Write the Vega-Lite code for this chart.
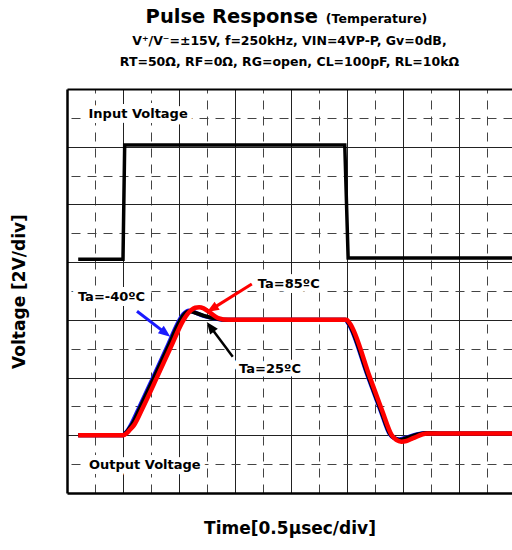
{
  "$schema": "https://vega.github.io/schema/vega-lite/v6.json",
  "width": 445,
  "height": 404,
  "autosize": {"type": "none"},
  "padding": {"left": 67, "top": 89, "right": 0, "bottom": 57},
  "background": "white",
  "title": {
    "text": "Pulse Response\u00a0\u00a0\u00a0\u00a0\u00a0\u00a0\u00a0\u00a0\u00a0\u00a0\u00a0\u00a0\u00a0\u00a0\u00a0\u00a0\u00a0\u200b",
    "subtitle": [
      "\u200b\u00a0\u00a0\u00a0\u00a0\u00a0\u00a0\u00a0\u00a0\u00a0\u00a0\u00a0\u00a0\u00a0\u00a0\u00a0\u00a0\u00a0\u00a0\u00a0\u00a0\u00a0\u00a0\u00a0\u00a0\u00a0\u00a0\u00a0\u00a0\u00a0\u00a0\u00a0\u00a0\u00a0\u00a0\u00a0\u00a0\u00a0\u00a0\u00a0\u00a0(Temperature)",
      "V⁺/V⁻=±15V, f=250kHz, VIN=4VP-P, Gv=0dB,",
      "RT=50Ω, RF=0Ω, RG=open, CL=100pF, RL=10kΩ"
    ],
    "anchor": "middle",
    "frame": "group",
    "font": "DejaVu Sans",
    "fontSize": 19.5,
    "fontWeight": "bold",
    "color": "#000000",
    "subtitleFont": "DejaVu Sans",
    "subtitleFontSize": 12.5,
    "subtitleFontWeight": "bold",
    "subtitleColor": "#000000",
    "subtitlePadding": -14,
    "subtitleLineHeight": 21.5,
    "offset": 19.5
  },
  "datasets": {
    "input": [
      {"t": 0.2, "v": 4.05}, {"t": 1.0, "v": 4.05}, {"t": 1.03, "v": 6.03}, {"t": 3.0, "v": 6.03},
      {"t": 4.96, "v": 6.03}, {"t": 5.02, "v": 4.07}, {"t": 7.95, "v": 4.07}
    ],
    "output": [
      {"series": "-40", "t": 0.2, "v": 1.0}, {"series": "-40", "t": 1.0, "v": 1.0}, {"series": "-40", "t": 1.04, "v": 1.04},
      {"series": "-40", "t": 1.09, "v": 1.1}, {"series": "-40", "t": 1.15, "v": 1.2}, {"series": "-40", "t": 1.29, "v": 1.49},
      {"series": "-40", "t": 1.53, "v": 1.99}, {"series": "-40", "t": 1.78, "v": 2.52}, {"series": "-40", "t": 1.98, "v": 2.95},
      {"series": "-40", "t": 2.05, "v": 3.07}, {"series": "-40", "t": 2.11, "v": 3.13}, {"series": "-40", "t": 2.17, "v": 3.16},
      {"series": "-40", "t": 2.25, "v": 3.14}, {"series": "-40", "t": 2.43, "v": 3.07}, {"series": "-40", "t": 2.66, "v": 3.02},
      {"series": "-40", "t": 2.83, "v": 3.0}, {"series": "-40", "t": 4.97, "v": 3.0}, {"series": "-40", "t": 5.02, "v": 2.94},
      {"series": "-40", "t": 5.37, "v": 2.02}, {"series": "-40", "t": 5.6, "v": 1.42}, {"series": "-40", "t": 5.76, "v": 1.02},
      {"series": "-40", "t": 5.84, "v": 0.95}, {"series": "-40", "t": 5.93, "v": 0.93}, {"series": "-40", "t": 6.05, "v": 0.96},
      {"series": "-40", "t": 6.25, "v": 1.02}, {"series": "-40", "t": 6.43, "v": 1.04}, {"series": "-40", "t": 6.7, "v": 1.03},
      {"series": "-40", "t": 7.95, "v": 1.03},
      {"series": "25", "t": 0.2, "v": 1.0}, {"series": "25", "t": 1.0, "v": 1.0}, {"series": "25", "t": 1.05, "v": 1.04},
      {"series": "25", "t": 1.1, "v": 1.1}, {"series": "25", "t": 1.17, "v": 1.2}, {"series": "25", "t": 1.31, "v": 1.49},
      {"series": "25", "t": 1.55, "v": 1.99}, {"series": "25", "t": 1.8, "v": 2.52}, {"series": "25", "t": 2.0, "v": 2.95},
      {"series": "25", "t": 2.07, "v": 3.07}, {"series": "25", "t": 2.13, "v": 3.13}, {"series": "25", "t": 2.19, "v": 3.15},
      {"series": "25", "t": 2.27, "v": 3.13}, {"series": "25", "t": 2.45, "v": 3.07}, {"series": "25", "t": 2.68, "v": 3.02},
      {"series": "25", "t": 2.85, "v": 3.0}, {"series": "25", "t": 4.98, "v": 3.0}, {"series": "25", "t": 5.03, "v": 2.94},
      {"series": "25", "t": 5.38, "v": 2.02}, {"series": "25", "t": 5.61, "v": 1.42}, {"series": "25", "t": 5.77, "v": 1.02},
      {"series": "25", "t": 5.85, "v": 0.95}, {"series": "25", "t": 5.94, "v": 0.92}, {"series": "25", "t": 6.08, "v": 0.96},
      {"series": "25", "t": 6.28, "v": 1.02}, {"series": "25", "t": 6.45, "v": 1.04}, {"series": "25", "t": 6.7, "v": 1.03},
      {"series": "25", "t": 7.95, "v": 1.03},
      {"series": "85", "t": 0.2, "v": 1.0}, {"series": "85", "t": 1.0, "v": 1.0}, {"series": "85", "t": 1.06, "v": 1.03},
      {"series": "85", "t": 1.12, "v": 1.09}, {"series": "85", "t": 1.2, "v": 1.18}, {"series": "85", "t": 1.36, "v": 1.49},
      {"series": "85", "t": 1.6, "v": 1.99}, {"series": "85", "t": 1.85, "v": 2.52}, {"series": "85", "t": 2.07, "v": 2.98},
      {"series": "85", "t": 2.15, "v": 3.1}, {"series": "85", "t": 2.22, "v": 3.17}, {"series": "85", "t": 2.29, "v": 3.21},
      {"series": "85", "t": 2.36, "v": 3.22}, {"series": "85", "t": 2.44, "v": 3.2}, {"series": "85", "t": 2.56, "v": 3.12},
      {"series": "85", "t": 2.7, "v": 3.03}, {"series": "85", "t": 2.88, "v": 3.0}, {"series": "85", "t": 4.99, "v": 3.0},
      {"series": "85", "t": 5.05, "v": 2.94}, {"series": "85", "t": 5.41, "v": 2.0}, {"series": "85", "t": 5.63, "v": 1.42},
      {"series": "85", "t": 5.8, "v": 1.0}, {"series": "85", "t": 5.88, "v": 0.92}, {"series": "85", "t": 5.97, "v": 0.89},
      {"series": "85", "t": 6.06, "v": 0.9}, {"series": "85", "t": 6.18, "v": 0.95}, {"series": "85", "t": 6.43, "v": 1.03},
      {"series": "85", "t": 6.71, "v": 1.03}, {"series": "85", "t": 7.95, "v": 1.03}
    ],
    "labels": [
      {"label": "Input Voltage", "t": 1.27, "v": 6.567},
      {"label": "Output Voltage", "t": 1.39, "v": 0.485},
      {"label": "Ta=-40ºC", "t": 0.795, "v": 3.4},
      {"label": "Ta=85ºC", "t": 3.96, "v": 3.62},
      {"label": "Ta=25ºC", "t": 3.625, "v": 2.15}
    ],
    "arrows": [
      {"arrow": "blue", "t": 1.25, "v": 3.15, "t2": 1.76, "v2": 2.77},
      {"arrow": "red", "t": 3.3, "v": 3.62, "t2": 2.59, "v2": 3.19},
      {"arrow": "black", "t": 2.96, "v": 2.36, "t2": 2.56, "v2": 2.88}
    ]
  },
  "resolve": {"axis": {"x": "independent", "y": "independent"}},
  "layer": [
    {
      "data": {"name": "labels"},
      "mark": {"type": "text", "font": "DejaVu Sans", "fontWeight": "bold", "fontSize": 13, "fill": "white", "stroke": "white", "strokeWidth": 10, "strokeJoin": "round"},
      "encoding": {
        "x": {"field": "t", "type": "quantitative", "scale": {"domain": [0, 7.946], "nice": false, "zero": false}, "axis": null},
        "y": {"field": "v", "type": "quantitative", "scale": {"domain": [0, 7], "nice": false, "zero": false}, "axis": null},
        "text": {"field": "label"}
      }
    },
    {
      "data": {"name": "output"},
      "transform": [{"filter": "datum.series === '-40'"}],
      "mark": {"type": "line", "color": "#1a1aff", "strokeWidth": 4, "interpolate": "monotone"},
      "encoding": {
        "x": {"field": "t", "type": "quantitative", "scale": {"domain": [0, 7.946], "nice": false, "zero": false},
          "axis": {"orient": "top", "values": [0.5, 1.5, 2.5, 3.5, 4.5, 5.5, 6.5, 7.5], "grid": true, "gridDash": [9, 7], "gridColor": "#444444", "gridWidth": 1, "gridOpacity": 1, "ticks": false, "labels": false, "domain": true, "domainColor": "#000000", "domainWidth": 2, "title": null}},
        "y": {"field": "v", "type": "quantitative", "scale": {"domain": [0, 7], "nice": false, "zero": false},
          "axis": {"orient": "right", "values": [0.5, 1.5, 2.5, 3.5, 4.5, 5.5, 6.5], "grid": true, "gridDash": [9, 7], "gridColor": "#444444", "gridWidth": 1, "gridOpacity": 1, "ticks": false, "labels": false, "domain": false, "title": null}}
      }
    },
    {
      "data": {"name": "output"},
      "transform": [{"filter": "datum.series === '25'"}],
      "mark": {"type": "line", "color": "#000000", "strokeWidth": 4, "interpolate": "monotone"},
      "encoding": {
        "x": {"field": "t", "type": "quantitative", "axis": null},
        "y": {"field": "v", "type": "quantitative", "axis": null}
      }
    },
    {
      "data": {"name": "output"},
      "transform": [{"filter": "datum.series === '85'"}],
      "mark": {"type": "line", "color": "#ff0000", "strokeWidth": 4.5, "interpolate": "monotone"},
      "encoding": {
        "x": {"field": "t", "type": "quantitative", "axis": null},
        "y": {"field": "v", "type": "quantitative", "axis": null}
      }
    },
    {
      "data": {"name": "input"},
      "mark": {"type": "line", "color": "#000000", "strokeWidth": 3.5, "interpolate": "linear"},
      "encoding": {
        "x": {"field": "t", "type": "quantitative",
          "axis": {"orient": "bottom", "values": [1, 2, 3, 4, 5, 6, 7], "grid": true, "gridColor": "#222222", "gridWidth": 1, "gridOpacity": 1, "ticks": false, "labels": false, "domain": true, "domainColor": "#000000", "domainWidth": 2.5, "title": "Time[0.5µsec/div]", "titleFont": "DejaVu Sans", "titleFontWeight": "bold", "titleFontSize": 17, "titleColor": "#000000", "titlePadding": 27}},
        "y": {"field": "v", "type": "quantitative",
          "axis": {"orient": "left", "values": [1, 2, 3, 4, 5, 6], "grid": true, "gridColor": "#222222", "gridWidth": 1, "gridOpacity": 1, "ticks": false, "labels": false, "domain": true, "domainColor": "#000000", "domainWidth": 2.5, "title": "Voltage [2V/div]", "titleFont": "DejaVu Sans", "titleFontWeight": "bold", "titleFontSize": 17, "titleColor": "#000000", "titlePadding": 39}}
      }
    },
    {
      "data": {"name": "arrows"},
      "transform": [{"filter": "datum.arrow === 'blue'"}],
      "layer": [
        {"mark": {"type": "rule", "color": "#1a1aff", "strokeWidth": 3},
         "encoding": {"x": {"field": "t", "type": "quantitative", "axis": null}, "y": {"field": "v", "type": "quantitative", "axis": null}, "x2": {"field": "t2"}, "y2": {"field": "v2"}}},
        {"mark": {"type": "point", "shape": "M0,-1L0.8,1L-0.8,1Z", "filled": true, "size": 144, "angle": 128, "color": "#1a1aff", "opacity": 1},
         "encoding": {"x": {"field": "t2", "type": "quantitative", "axis": null}, "y": {"field": "v2", "type": "quantitative", "axis": null}}}
      ]
    },
    {
      "data": {"name": "arrows"},
      "transform": [{"filter": "datum.arrow === 'red'"}],
      "layer": [
        {"mark": {"type": "rule", "color": "#ff0000", "strokeWidth": 3},
         "encoding": {"x": {"field": "t", "type": "quantitative", "axis": null}, "y": {"field": "v", "type": "quantitative", "axis": null}, "x2": {"field": "t2"}, "y2": {"field": "v2"}}},
        {"mark": {"type": "point", "shape": "M0,-1L0.8,1L-0.8,1Z", "filled": true, "size": 144, "angle": 238, "color": "#ff0000", "opacity": 1},
         "encoding": {"x": {"field": "t2", "type": "quantitative", "axis": null}, "y": {"field": "v2", "type": "quantitative", "axis": null}}}
      ]
    },
    {
      "data": {"name": "arrows"},
      "transform": [{"filter": "datum.arrow === 'black'"}],
      "layer": [
        {"mark": {"type": "rule", "color": "#000000", "strokeWidth": 2.5},
         "encoding": {"x": {"field": "t", "type": "quantitative", "axis": null}, "y": {"field": "v", "type": "quantitative", "axis": null}, "x2": {"field": "t2"}, "y2": {"field": "v2"}}},
        {"mark": {"type": "point", "shape": "M0,-1L0.8,1L-0.8,1Z", "filled": true, "size": 144, "angle": 323, "color": "#000000", "opacity": 1},
         "encoding": {"x": {"field": "t2", "type": "quantitative", "axis": null}, "y": {"field": "v2", "type": "quantitative", "axis": null}}}
      ]
    },
    {
      "data": {"name": "labels"},
      "mark": {"type": "text", "font": "DejaVu Sans", "fontWeight": "bold", "fontSize": 13, "color": "#000000"},
      "encoding": {
        "x": {"field": "t", "type": "quantitative", "axis": null},
        "y": {"field": "v", "type": "quantitative", "axis": null},
        "text": {"field": "label"}
      }
    }
  ],
  "config": {"view": {"stroke": null}}
}
